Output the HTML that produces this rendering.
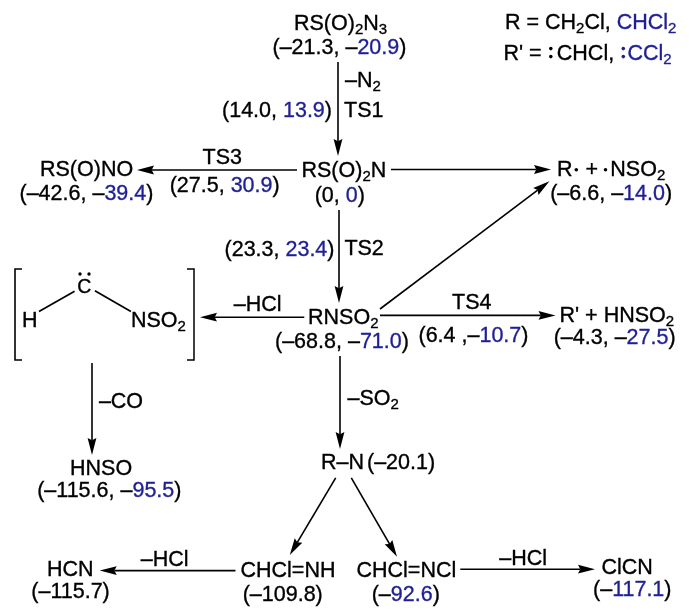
<!DOCTYPE html>
<html><head><meta charset="utf-8"><style>
html,body{margin:0;padding:0;background:#fff;}
svg{display:block;will-change:transform;font-family:"Liberation Sans", sans-serif;}
text{stroke:#000;stroke-width:0.35px;}
</style></head><body>
<svg width="689" height="615" viewBox="0 0 689 615">
<rect width="689" height="615" fill="#fff"/>
<text x="294" y="29.5" text-anchor="start" font-size="21.5" >RS(O)<tspan font-size="15" dy="4">2</tspan><tspan dy="-4">​</tspan>N<tspan font-size="15" dy="4">3</tspan><tspan dy="-4">​</tspan></text>
<text x="272.5" y="53.5" text-anchor="start" font-size="21.5" >(–21.3, –<tspan fill="#1f1f96" stroke="#1f1f96">20.9</tspan>)</text>
<line x1="338.00" y1="62.00" x2="338.00" y2="141.30" stroke="#000" stroke-width="1.6"/><path d="M338.00,156.00 L333.60,139.00 L338.00,141.30 L342.40,139.00 Z" fill="#000"/>
<text x="345" y="87" text-anchor="start" font-size="21.5" >–N<tspan font-size="15" dy="4">2</tspan><tspan dy="-4">​</tspan></text>
<text x="332" y="116.5" text-anchor="end" font-size="21.5" >(14.0, <tspan fill="#1f1f96" stroke="#1f1f96">13.9</tspan>)</text>
<text x="344" y="116.5" text-anchor="start" font-size="21.5" >TS1</text>
<text x="505" y="28.7" text-anchor="start" font-size="21.5" >R = CH<tspan font-size="15" dy="4">2</tspan><tspan dy="-4">​</tspan>Cl, <tspan fill="#1f1f96" stroke="#1f1f96">CHCl<tspan font-size="15" dy="4">2</tspan><tspan dy="-4">​</tspan></tspan></text>
<text x="503.5" y="59.7" text-anchor="start" font-size="21.5" >R' =</text>
<circle cx="550.8" cy="48.6" r="1.8"/><circle cx="550.8" cy="56.6" r="1.8"/>
<text x="556.8" y="59.7" text-anchor="start" font-size="21.5" >CHCl,</text>
<circle cx="623.3" cy="48.6" r="1.8" fill="#1f1f96"/><circle cx="623.3" cy="56.6" r="1.8" fill="#1f1f96"/>
<text x="627.5" y="59.7" text-anchor="start" font-size="21.5" ><tspan fill="#1f1f96" stroke="#1f1f96">CCl<tspan font-size="15" dy="4">2</tspan><tspan dy="-4">​</tspan></tspan></text>
<text x="301.5" y="177.4" text-anchor="start" font-size="21.5" >RS(O)<tspan font-size="15" dy="4">2</tspan><tspan dy="-4">​</tspan>N</text>
<text x="314.7" y="201.6" text-anchor="start" font-size="21.5" >(0, <tspan fill="#1f1f96" stroke="#1f1f96">0</tspan>)</text>
<line x1="297.00" y1="170.00" x2="151.70" y2="170.00" stroke="#000" stroke-width="1.6"/><path d="M137.00,170.00 L154.00,165.60 L151.70,170.00 L154.00,174.40 Z" fill="#000"/>
<text x="202.6" y="163.9" text-anchor="start" font-size="21.5" >TS3</text>
<text x="169.7" y="192.3" text-anchor="start" font-size="21.5" >(27.5, <tspan fill="#1f1f96" stroke="#1f1f96">30.9</tspan>)</text>
<text x="40" y="175.7" text-anchor="start" font-size="21.5" >RS(O)NO</text>
<text x="19.5" y="200" text-anchor="start" font-size="21.5" >(–42.6, –<tspan fill="#1f1f96" stroke="#1f1f96">39.4</tspan>)</text>
<line x1="391.00" y1="169.50" x2="536.30" y2="169.50" stroke="#000" stroke-width="1.6"/><path d="M551.00,169.50 L534.00,173.90 L536.30,169.50 L534.00,165.10 Z" fill="#000"/>
<text x="557" y="175.5" text-anchor="start" font-size="21.5" >R</text>
<circle cx="576.3" cy="169.8" r="1.8"/><circle cx="605.5" cy="169.8" r="1.8"/>
<text x="585.4" y="175.5" text-anchor="start" font-size="21.5" >+</text>
<text x="610.3" y="175.5" text-anchor="start" font-size="21.5" >NSO<tspan font-size="15" dy="4">2</tspan><tspan dy="-4">​</tspan></text>
<text x="550.2" y="200.2" text-anchor="start" font-size="21.5" >(–6.6, –<tspan fill="#1f1f96" stroke="#1f1f96">14.0</tspan>)</text>
<line x1="339.00" y1="210.00" x2="339.00" y2="288.30" stroke="#000" stroke-width="1.6"/><path d="M339.00,303.00 L334.60,286.00 L339.00,288.30 L343.40,286.00 Z" fill="#000"/>
<text x="334.5" y="255.8" text-anchor="end" font-size="21.5" >(23.3, <tspan fill="#1f1f96" stroke="#1f1f96">23.4</tspan>)</text>
<text x="344.4" y="255.3" text-anchor="start" font-size="21.5" >TS2</text>
<line x1="380.00" y1="309.00" x2="537.66" y2="190.05" stroke="#000" stroke-width="1.6"/><path d="M549.40,181.20 L538.48,194.95 L537.66,190.05 L533.18,187.93 Z" fill="#000"/>
<text x="308" y="323.5" text-anchor="start" font-size="21.5" >RNSO<tspan font-size="15" dy="4">2</tspan><tspan dy="-4">​</tspan></text>
<text x="275" y="348.2" text-anchor="start" font-size="21.5" >(–68.8, –<tspan fill="#1f1f96" stroke="#1f1f96">71.0</tspan>)</text>
<line x1="304.30" y1="317.20" x2="214.70" y2="317.20" stroke="#000" stroke-width="1.6"/><path d="M200.00,317.20 L217.00,312.80 L214.70,317.20 L217.00,321.60 Z" fill="#000"/>
<text x="233.7" y="310.5" text-anchor="start" font-size="21.5" >–HCl</text>
<line x1="380.00" y1="315.40" x2="540.80" y2="315.40" stroke="#000" stroke-width="1.6"/><path d="M555.50,315.40 L538.50,319.80 L540.80,315.40 L538.50,311.00 Z" fill="#000"/>
<text x="452" y="309.2" text-anchor="start" font-size="21.5" >TS4</text>
<text x="418.5" y="342.4" text-anchor="start" font-size="21.5" >(6.4 ,–<tspan fill="#1f1f96" stroke="#1f1f96">10.7</tspan>)</text>
<text x="559.5" y="321.8" text-anchor="start" font-size="21.5" >R' + HNSO<tspan font-size="15" dy="4">2</tspan><tspan dy="-4">​</tspan></text>
<text x="553.7" y="344.2" text-anchor="start" font-size="21.5" >(–4.3, –<tspan fill="#1f1f96" stroke="#1f1f96">27.5</tspan>)</text>
<path d="M22,269 H15 V360 H22" fill="none" stroke="#000" stroke-width="1.6"/>
<path d="M187,269 H194 V360 H187" fill="none" stroke="#000" stroke-width="1.5"/>
<text x="22" y="326.8" text-anchor="start" font-size="21.5" >H</text>
<text x="77.2" y="293.2" text-anchor="start" font-size="19.5" >C</text>
<circle cx="80" cy="274" r="1.7"/><circle cx="89" cy="274" r="1.7"/>
<line x1="39" y1="311.5" x2="74.6" y2="291.2" stroke="#000" stroke-width="1.7"/>
<line x1="94.9" y1="290.8" x2="130.9" y2="311.4" stroke="#000" stroke-width="1.7"/>
<text x="131" y="326.8" text-anchor="start" font-size="21.5" >NSO<tspan font-size="15" dy="4">2</tspan><tspan dy="-4">​</tspan></text>
<line x1="92.00" y1="363.00" x2="92.00" y2="440.30" stroke="#000" stroke-width="1.6"/><path d="M92.00,455.00 L87.60,438.00 L92.00,440.30 L96.40,438.00 Z" fill="#000"/>
<text x="98.9" y="408" text-anchor="start" font-size="21.5" >–CO</text>
<text x="70" y="474.7" text-anchor="start" font-size="21.5" >HNSO</text>
<text x="37.2" y="497.2" text-anchor="start" font-size="21.5" >(–115.6, –<tspan fill="#1f1f96" stroke="#1f1f96">95.5</tspan>)</text>
<line x1="340.00" y1="356.00" x2="340.00" y2="434.30" stroke="#000" stroke-width="1.6"/><path d="M340.00,449.00 L335.60,432.00 L340.00,434.30 L344.40,432.00 Z" fill="#000"/>
<text x="347.5" y="405.2" text-anchor="start" font-size="21.5" >–SO<tspan font-size="15" dy="4">2</tspan><tspan dy="-4">​</tspan></text>
<text x="321" y="469" text-anchor="start" font-size="21.5" >R–N</text>
<text x="367" y="469" text-anchor="start" font-size="21.5" >(–20.1)</text>
<line x1="335.70" y1="477.90" x2="297.32" y2="542.37" stroke="#000" stroke-width="1.6"/><path d="M289.80,555.00 L294.72,538.14 L297.32,542.37 L302.28,542.64 Z" fill="#000"/>
<line x1="351.30" y1="477.90" x2="389.63" y2="544.08" stroke="#000" stroke-width="1.6"/><path d="M397.00,556.80 L384.67,544.29 L389.63,544.08 L392.29,539.88 Z" fill="#000"/>
<text x="47" y="575.8" text-anchor="start" font-size="21.5" >HCN</text>
<text x="31.3" y="597.7" text-anchor="start" font-size="21.5" >(–115.7)</text>
<line x1="235.50" y1="570.60" x2="114.40" y2="570.60" stroke="#000" stroke-width="1.6"/><path d="M99.70,570.60 L116.70,566.20 L114.40,570.60 L116.70,575.00 Z" fill="#000"/>
<text x="140.8" y="566.4" text-anchor="start" font-size="21.5" >–HCl</text>
<text x="240.5" y="576.8" text-anchor="start" font-size="21.5" >CHCl=NH</text>
<text x="242.7" y="600.7" text-anchor="start" font-size="21.5" >(–109.8)</text>
<text x="356.5" y="577" text-anchor="start" font-size="21.5" >CHCl=NCl</text>
<text x="371.7" y="600.7" text-anchor="start" font-size="21.5" >(–<tspan fill="#1f1f96" stroke="#1f1f96">92.6</tspan>)</text>
<line x1="460.30" y1="569.20" x2="580.30" y2="569.20" stroke="#000" stroke-width="1.6"/><path d="M595.00,569.20 L578.00,573.60 L580.30,569.20 L578.00,564.80 Z" fill="#000"/>
<text x="499.3" y="564.7" text-anchor="start" font-size="21.5" >–HCl</text>
<text x="601.5" y="573.8" text-anchor="start" font-size="21.5" >ClCN</text>
<text x="593" y="596.4" text-anchor="start" font-size="21.5" >(–<tspan fill="#1f1f96" stroke="#1f1f96">117.1</tspan>)</text>
</svg></body></html>
